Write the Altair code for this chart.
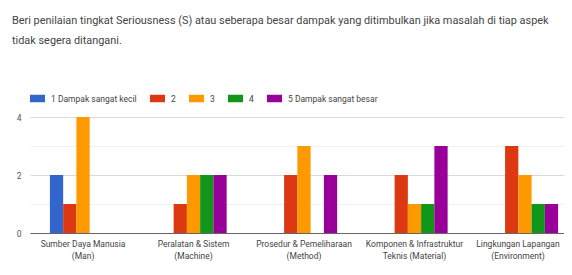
import altair as alt
import pandas as pd

categories = [
    "Sumber Daya Manusia\n(Man)",
    "Peralatan & Sistem\n(Machine)",
    "Prosedur & Pemeliharaan\n(Method)",
    "Komponen & Infrastruktur\nTeknis (Material)",
    "Lingkungan Lapangan\n(Environment)",
]
series = ["1 Dampak sangat kecil", "2", "3", "4", "5 Dampak sangat besar"]
values_1 = [2, 0, 0, 0, 0]
values_2 = [1, 1, 2, 2, 3]
values_3 = [4, 2, 3, 1, 2]
values_4 = [0, 2, 0, 1, 1]
values_5 = [0, 2, 2, 3, 1]
colors = ["#3366cc", "#dc3912", "#ff9900", "#109618", "#990099"]
y_ticks = [0, 1, 2, 3, 4]
title_lines = [
    "Beri penilaian tingkat Seriousness (S) atau seberapa besar dampak yang ditimbulkan jika masalah di tiap aspek",
    "tidak segera ditangani.",
]

rows = []
for s, vals in zip(series, [values_1, values_2, values_3, values_4, values_5]):
    for c, v in zip(categories, vals):
        rows.append({"aspek": c, "skor": s, "jumlah": v})
df = pd.DataFrame(rows)

FONT = "Roboto"

chart = alt.Chart(df).mark_bar().encode(
    x=alt.X(
        "aspek:N",
        sort=categories,
        scale=alt.Scale(range=[0, 548], paddingInner=0.4, paddingOuter=0.18),
        axis=alt.Axis(
            title=None,
            labelAngle=0,
            labelExpr="split(datum.label, '\\n')",
            labelFont=FONT,
            labelFontSize=8.5,
            labelColor="#444444",
            labelLineHeight=12,
            labelPadding=6,
            labelOffset={"condition": {"test": "datum.index == 1", "value": -7}, "value": 0},
            ticks=False,
            domainColor="#666666",
            domainWidth=1,
            grid=False,
            labelOverlap=False,
        ),
    ),
    xOffset=alt.XOffset("skor:N", sort=series),
    y=alt.Y(
        "jumlah:Q",
        scale=alt.Scale(domain=[0, 4], nice=False),
        axis=alt.Axis(
            title=None,
            values=y_ticks,
            labelExpr="datum.value % 2 == 0 ? datum.label : ''",
            labelFont=FONT,
            labelFontSize=8.5,
            labelColor="#555555",
            labelPadding=9,
            ticks=False,
            domain=False,
            grid=True,
            gridColor={"condition": {"test": "datum.value % 2 == 1", "value": "#f0f0f0"}, "value": "#d9d9d9"},
        ),
    ),
    color=alt.Color(
        "skor:N",
        sort=series,
        scale=alt.Scale(domain=series, range=colors),
        legend=alt.Legend(
            title=None,
            orient="none",
            legendX=0,
            legendY=-26,
            direction="horizontal",
            symbolType="M-1,-0.5H1V0.5H-1Z",
            symbolSize=225,
            symbolStrokeWidth=0,
            symbolOpacity=1,
            labelFont=FONT,
            labelFontSize=8.5,
            labelColor="#444444",
            labelOffset=6,
            columnPadding=13,
        ),
    ),
).properties(
    width=534,
    height=116,
    autosize=alt.AutoSizeParams(type="none"),
    padding={"left": 22, "top": 109, "right": 0, "bottom": 34},
    title=alt.Title(
        title_lines,
        anchor="start",
        frame="group",
        dx=-18,
        font=FONT,
        fontSize=10.9,
        fontWeight="normal",
        color="#444444",
        lineHeight=20,
        offset=45,
    ),
).configure_view(stroke=None)

chart.save("out.html", embed_options={"renderer": "svg", "actions": False})
